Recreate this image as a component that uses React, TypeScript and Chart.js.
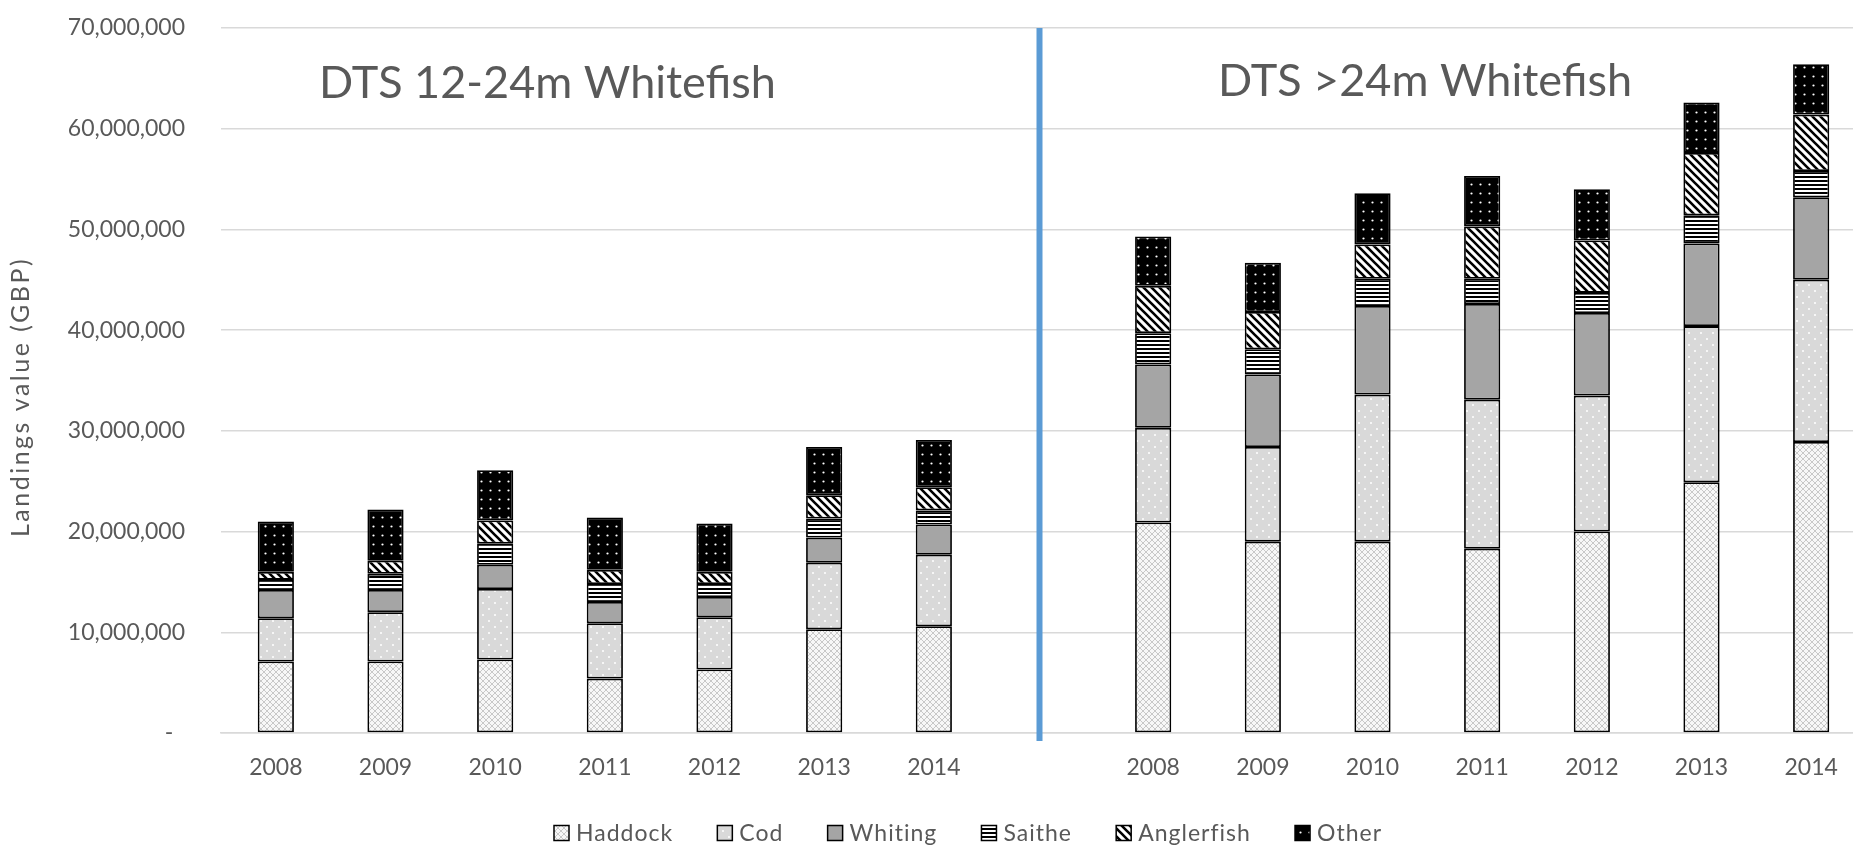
import React, { useEffect, useRef } from 'react';
import { Chart, registerables } from 'chart.js';

Chart.register(...registerables);

const categories = ['2008', '2009', '2010', '2011', '2012', '2013', '2014', '', '2008', '2009', '2010', '2011', '2012', '2013', '2014'];
const seriesNames = ['Haddock', 'Cod', 'Whiting', 'Saithe', 'Anglerfish', 'Other'];
const haddock = [7_100_000, 7_100_000, 7_300_000, 5_400_000, 6_300_000, 10_300_000, 10_600_000, null, 20_900_000, 19_000_000, 19_000_000, 18_300_000, 20_000_000, 24_900_000, 28_900_000];
const cod = [4_300_000, 4_900_000, 7_000_000, 5_500_000, 5_200_000, 6_600_000, 7_100_000, null, 9_400_000, 9_400_000, 14_600_000, 14_800_000, 13_500_000, 15_500_000, 16_100_000];
const whiting = [2_800_000, 2_200_000, 2_400_000, 2_100_000, 2_000_000, 2_500_000, 3_000_000, null, 6_300_000, 7_200_000, 8_800_000, 9_500_000, 8_200_000, 8_200_000, 8_200_000];
const saithe = [1_000_000, 1_600_000, 2_100_000, 1_800_000, 1_300_000, 1_900_000, 1_400_000, null, 3_100_000, 2_500_000, 2_700_000, 2_500_000, 2_000_000, 2_800_000, 2_600_000];
const anglerfish = [800_000, 1_300_000, 2_300_000, 1_400_000, 1_200_000, 2_300_000, 2_300_000, null, 4_700_000, 3_700_000, 3_400_000, 5_200_000, 5_200_000, 6_200_000, 5_600_000];
const other = [5_000_000, 5_100_000, 5_000_000, 5_200_000, 4_800_000, 4_800_000, 4_700_000, null, 4_900_000, 4_900_000, 5_100_000, 5_000_000, 5_100_000, 5_000_000, 5_000_000];
const yTicks = [0, 10_000_000, 20_000_000, 30_000_000, 40_000_000, 50_000_000, 60_000_000, 70_000_000];
const panelTitles = ['DTS 12-24m Whitefish', 'DTS >24m Whitefish'];
const yTitle = 'Landings value (GBP)';

const TEXT = '#595959';
const FONT = 'Lato';

function makePattern(w: number, h: number, draw: (c: CanvasRenderingContext2D) => void): CanvasPattern | string {
  const cv = document.createElement('canvas');
  cv.width = w;
  cv.height = h;
  const c = cv.getContext('2d');
  if (!c) return '#ccc';
  draw(c);
  const ctx = document.createElement('canvas').getContext('2d');
  return (ctx && ctx.createPattern(cv, 'repeat')) || '#ccc';
}

function buildPatterns() {
  const haddockP = makePattern(6, 6, (c) => {
    c.fillStyle = '#f7f7f7';
    c.fillRect(0, 0, 6, 6);
    c.strokeStyle = '#c8c8c8';
    c.lineWidth = 1;
    c.beginPath();
    c.moveTo(0, 0); c.lineTo(6, 6);
    c.moveTo(6, 0); c.lineTo(0, 6);
    c.stroke();
  });
  const codP = makePattern(12, 12, (c) => {
    c.fillStyle = '#d9d9d9';
    c.fillRect(0, 0, 12, 12);
    c.fillStyle = '#ffffff';
    c.beginPath(); c.arc(3, 3, 1, 0, Math.PI * 2); c.fill();
    c.beginPath(); c.arc(9, 9, 1, 0, Math.PI * 2); c.fill();
  });
  const whitingP = '#a5a5a5';
  const saitheP = makePattern(4, 4, (c) => {
    c.fillStyle = '#ffffff';
    c.fillRect(0, 0, 4, 4);
    c.fillStyle = '#000000';
    c.fillRect(0, 0, 4, 2);
  });
  const anglerP = makePattern(8, 8, (c) => {
    c.fillStyle = '#ffffff';
    c.fillRect(0, 0, 8, 8);
    c.strokeStyle = '#000000';
    c.lineWidth = 2.6;
    c.beginPath();
    c.moveTo(-2, -2); c.lineTo(10, 10);
    c.moveTo(-6, 2); c.lineTo(6, 14);
    c.moveTo(2, -6); c.lineTo(14, 6);
    c.stroke();
  });
  const otherP = makePattern(9, 9, (c) => {
    c.fillStyle = '#000000';
    c.fillRect(0, 0, 9, 9);
    c.fillStyle = '#ffffff';
    c.beginPath(); c.arc(4.5, 4.5, 1.1, 0, Math.PI * 2); c.fill();
  });
  return [haddockP, codP, whitingP, saitheP, anglerP, otherP];
}

const overlayPlugin = {
  id: 'overlay',
  afterDatasetsDraw(chart: any) {
    const { ctx, chartArea, scales } = chart;
    const x = scales.x.getPixelForValue(7) - 4;
    ctx.save();
    // separator
    ctx.strokeStyle = '#5b9bd5';
    ctx.lineWidth = 6;
    ctx.beginPath();
    ctx.moveTo(x, chartArea.top);
    ctx.lineTo(x, chartArea.bottom + 8);
    ctx.stroke();
    // panel titles
    ctx.fillStyle = TEXT;
    ctx.font = `45px ${FONT}`;
    ctx.textAlign = 'left';
    ctx.textBaseline = 'alphabetic';
    ctx.fillText(panelTitles[0], 319, 98);
    ctx.fillText(panelTitles[1], 1218, 96);
    // y title
    ctx.save();
    ctx.font = `25px ${FONT}`;
    (ctx as any).letterSpacing = '2.5px';
    ctx.translate(21, 397);
    ctx.rotate(-Math.PI / 2);
    ctx.textAlign = 'center';
    ctx.textBaseline = 'middle';
    ctx.fillText(yTitle, 0, 0);
    ctx.restore();
    // legend
    ctx.save();
    ctx.font = `23px ${FONT}`;
    (ctx as any).letterSpacing = '1px';
    ctx.textBaseline = 'middle';
    ctx.textAlign = 'left';
    const box = 15;
    const gapText = 7;
    const startX = 554;
    const targetW = 828;
    const cy = 833;
    const ds = chart.data.datasets;
    const widths = ds.map((d: any) => ctx.measureText(d.label).width);
    const used = widths.reduce((a: number, b: number) => a + b, 0) + ds.length * (box + gapText);
    const gap = (targetW - used) / (ds.length - 1);
    let cx = startX;
    ds.forEach((d: any, i: number) => {
      ctx.fillStyle = d.backgroundColor;
      ctx.fillRect(cx, cy - box / 2, box, box);
      ctx.strokeStyle = '#000000';
      ctx.lineWidth = 1.5;
      ctx.strokeRect(cx, cy - box / 2, box, box);
      ctx.fillStyle = TEXT;
      ctx.fillText(d.label, cx + box + gapText, cy + 1);
      cx += box + gapText + widths[i] + gap;
    });
    ctx.restore();
    ctx.restore();
  },
};

export default function App() {
  const ref = useRef<HTMLCanvasElement | null>(null);

  useEffect(() => {
    if (!ref.current) return;
    const patterns = buildPatterns();
    const series = [haddock, cod, whiting, saithe, anglerfish, other];
    const chart = new Chart(ref.current, {
      type: 'bar',
      data: {
        labels: categories,
        datasets: series.map((d, i) => ({
          label: seriesNames[i],
          data: d,
          backgroundColor: patterns[i] as any,
          borderColor: '#000000',
          borderWidth: 1.8,
          borderSkipped: false,
          categoryPercentage: 1,
          barPercentage: 0.33,
        })),
      },
      options: {
        animation: false,
        responsive: true,
        maintainAspectRatio: false,
        layout: { padding: { top: 28, bottom: 70, left: 0, right: 0 } },
        plugins: {
          tooltip: { enabled: false },
          legend: { display: false },
        },
        scales: {
          x: {
            stacked: true,
            grid: { display: false, drawTicks: false },
            border: { display: true, color: '#d9d9d9', width: 1.5 },
            afterFit: (scale: any) => {
              scale.height = 44;
            },
            ticks: { color: TEXT, font: { family: FONT, size: 23 }, padding: 21, maxRotation: 0, autoSkip: false },
          },
          y: {
            stacked: true,
            min: 0,
            max: 70_000_000,
            afterBuildTicks: (scale: any) => {
              scale.ticks = yTicks.map((v) => ({ value: v }));
            },
            afterFit: (scale: any) => {
              scale.width = 221;
            },
            grid: { color: '#d9d9d9', lineWidth: 1.5, drawTicks: true, tickLength: 32, tickColor: 'rgba(0,0,0,0)' },
            border: { display: false },
            title: { display: false },
            ticks: {
              color: TEXT,
              font: { family: FONT, size: 23 },
              padding: 4,
              callback: (v: any) => (Number(v) === 0 ? '-  ' : Number(v).toLocaleString('en-US')),
            },
          },
        },
      },
      plugins: [overlayPlugin],
    });
    return () => chart.destroy();
  }, []);

  return (
    <div style={{ position: 'fixed', left: 0, top: 0, width: 1853, height: 847, overflow: 'hidden', background: '#ffffff' }}>
      <div style={{ position: 'relative', width: 1866, height: 847 }}>
        <canvas ref={ref} />
      </div>
    </div>
  );
}
